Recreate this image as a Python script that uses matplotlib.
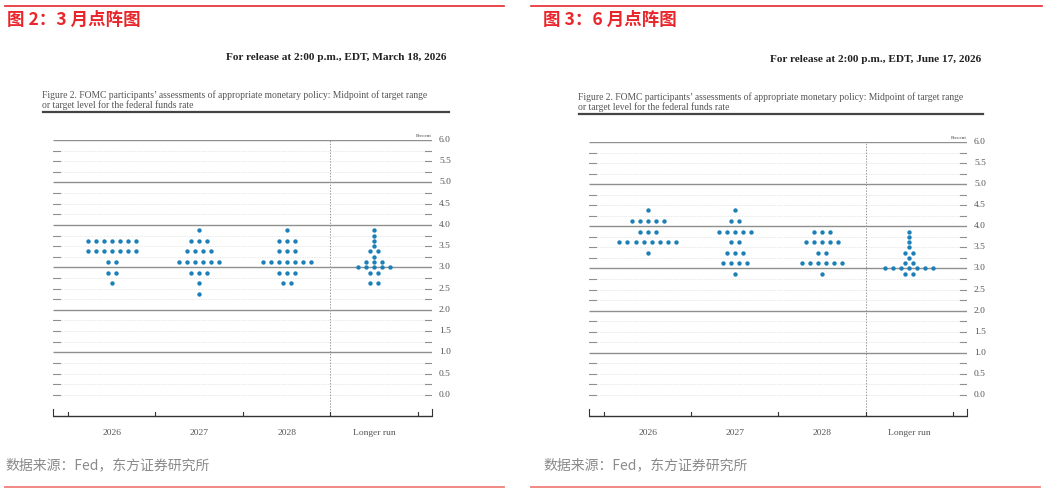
import numpy as np
import matplotlib
matplotlib.use("Agg")
import matplotlib.pyplot as plt
from matplotlib.transforms import blended_transform_factory

plt.rcParams['font.family'] = ['Noto Sans CJK SC', 'DejaVu Sans']

W, H = 1047, 493

# ---------------- data ----------------
categories = ["2026", "2027", "2028", "Longer run"]
y_tick_values = [0.0, 0.5, 1.0, 1.5, 2.0, 2.5, 3.0, 3.5, 4.0, 4.5, 5.0, 5.5, 6.0]
y_tick_labels = ["0.0", "0.5", "1.0", "1.5", "2.0", "2.5", "3.0", "3.5", "4.0", "4.5", "5.0", "5.5", "6.0"]

# March 2026 SEP
mar_2026_rates = [3.625, 3.375, 3.125, 2.875, 2.625]
mar_2026_counts = [7, 7, 2, 2, 1]
mar_2027_rates = [3.875, 3.625, 3.375, 3.125, 2.875, 2.625, 2.375]
mar_2027_counts = [1, 3, 4, 6, 3, 1, 1]
mar_2028_rates = [3.875, 3.625, 3.375, 3.125, 2.875, 2.625]
mar_2028_counts = [1, 3, 3, 7, 3, 2]
mar_lr_rates = [3.875, 3.75, 3.625, 3.5, 3.375, 3.25, 3.125, 3.0, 2.875, 2.625]
mar_lr_counts = [1, 1, 1, 1, 2, 1, 3, 5, 2, 2]

# June 2026 SEP
jun_2026_rates = [4.375, 4.125, 3.875, 3.625, 3.375]
jun_2026_counts = [1, 5, 3, 8, 1]
jun_2027_rates = [4.375, 4.125, 3.875, 3.625, 3.375, 3.125, 2.875]
jun_2027_counts = [1, 2, 5, 2, 3, 4, 1]
jun_2028_rates = [3.875, 3.625, 3.375, 3.125, 2.875]
jun_2028_counts = [3, 5, 2, 6, 1]
jun_lr_rates = [3.875, 3.75, 3.625, 3.5, 3.375, 3.25, 3.125, 3.0, 2.875]
jun_lr_counts = [1, 1, 1, 1, 2, 1, 2, 7, 2]

panel_titles = ["图 2：3 月点阵图", "图 3：6 月点阵图"]
release_texts = ["For release at 2:00 p.m., EDT, March 18, 2026",
                 "For release at 2:00 p.m., EDT, June 17, 2026"]
caption_line1 = "Figure 2. FOMC participants\u2019 assessments of appropriate monetary policy: Midpoint of target range"
caption_line2 = "or target level for the federal funds rate"
source_text = "数据来源：Fed，东方证券研究所"

# ---------------- styling ----------------
RED = '#e8262b'
DOT = '#1b7fb8'
SERIF = 'Liberation Serif'
XMIN, XMAX = -0.671, 3.66
YMIN, YMAX = -0.5, 6.0
DOT_STEP = 0.092

fig = plt.figure(figsize=(W / 100, H / 100), dpi=100)


def fx(x):
    return x / W


def fy(y):
    return 1 - y / H


def rect(l, t, r, b):
    return [l / W, 1 - b / H, (r - l) / W, (b - t) / H]


def hline(x0, x1, y, color, lw):
    fig.add_artist(plt.Line2D([fx(x0), fx(x1)], [fy(y), fy(y)], color=color, lw=lw,
                              transform=fig.transFigure))


def draw_panel(ax_rect, series):
    ax = fig.add_axes(ax_rect)
    ax.set_xlim(XMIN, XMAX)
    ax.set_ylim(YMIN, YMAX)
    ax.axis('off')
    # horizontal guide lines
    end = 0.08
    for y in np.arange(0, 6.001, 0.25):
        if abs(y - round(y)) < 1e-9 and y > 0:
            ax.plot([XMIN, XMAX], [y, y], color='#8f8f8f', lw=1.0, zorder=1,
                    solid_capstyle='butt')
        else:
            ax.plot([XMIN + end, XMAX - end], [y, y], color='#d2d2d2', lw=0.5,
                    ls=(0, (1, 1.5)), zorder=1)
            ax.plot([XMIN, XMIN + end], [y, y], color='#8f8f8f', lw=0.8, zorder=1)
            ax.plot([XMAX - end, XMAX], [y, y], color='#8f8f8f', lw=0.8, zorder=1)
    # dashed separator before longer run
    ax.plot([2.5, 2.5], [YMIN, YMAX], color='#9a9a9a', lw=0.7, ls=(0, (1.5, 1.5)), zorder=1)
    # bottom axis
    ax.plot([XMIN, XMAX], [YMIN, YMIN], color='#333333', lw=1.0, zorder=2,
            solid_capstyle='butt', clip_on=False)
    for xt in [XMIN, XMAX]:
        ax.plot([xt, xt], [YMIN, YMIN + 0.17], color='#333333', lw=0.8, clip_on=False)
    for xt in [-0.5, 0.5, 1.5, 2.5, 3.5]:
        ax.plot([xt, xt], [YMIN, YMIN + 0.1], color='#333333', lw=0.8, clip_on=False)
    # category labels
    for i, c in enumerate(categories):
        ax.text(i, YMIN - 0.4, c, ha='center', va='center', fontsize=6.8,
                family=SERIF, color='#555555')
    # y tick labels on the right
    tr = blended_transform_factory(ax.transAxes, ax.transData)
    for v, lab in zip(y_tick_values, y_tick_labels):
        ax.text(1.0 + 7 / 379, v, lab, transform=tr, ha='left', va='center',
                fontsize=6.8, family=SERIF, color='#555555')
    ax.text(1.0, 6.04, "Percent", transform=tr, ha='right', va='bottom',
            fontsize=3.8, family=SERIF, color='#444444')
    # dots
    for i, (rates, counts) in enumerate(series):
        xs, ys = [], []
        for r, n in zip(rates, counts):
            for k in range(n):
                xs.append(i + (k - (n - 1) / 2) * DOT_STEP)
                ys.append(r)
        ax.scatter(xs, ys, s=10, color=DOT, linewidths=0, zorder=3)
    return ax


panels = [
    dict(ax_rect=rect(53, 140, 432, 416),
         series=[(mar_2026_rates, mar_2026_counts), (mar_2027_rates, mar_2027_counts),
                 (mar_2028_rates, mar_2028_counts), (mar_lr_rates, mar_lr_counts)],
         title_x=7, top_line=(5, 504), bot_line=(5, 504), src_x=5,
         rel_right=447, rel_y=58, cap_x=42, cap_y=95, cap_line=(43, 449, 112)),
    dict(ax_rect=rect(589, 142, 967, 416),
         series=[(jun_2026_rates, jun_2026_counts), (jun_2027_rates, jun_2027_counts),
                 (jun_2028_rates, jun_2028_counts), (jun_lr_rates, jun_lr_counts)],
         title_x=543, top_line=(531, 1042), bot_line=(531, 1040), src_x=543,
         rel_right=981, rel_y=60, cap_x=578, cap_y=97, cap_line=(579, 983, 114)),
]

for p, title, rel in zip(panels, panel_titles, release_texts):
    draw_panel(p['ax_rect'], p['series'])
    hline(p['top_line'][0], p['top_line'][1], 5.5, RED, 1.2)
    hline(p['bot_line'][0], p['bot_line'][1], 487, '#f07f7a', 1.3)
    fig.text(fx(p['title_x']), fy(20), title, color=RED, fontsize=12.6, fontweight='bold',
             ha='left', va='center')
    fig.text(fx(p['src_x']), fy(465), source_text, color='#8a8a8a', fontsize=10,
             ha='left', va='center')
    fig.text(fx(p['rel_right']), fy(p['rel_y']), rel, family=SERIF, fontweight='bold',
             fontsize=8.1, color='#222222', ha='right', va='center')
    fig.text(fx(p['cap_x']), fy(p['cap_y']), caption_line1, family=SERIF, fontsize=6.9,
             color='#555555', ha='left', va='center')
    fig.text(fx(p['cap_x']), fy(p['cap_y'] + 10), caption_line2, family=SERIF, fontsize=6.9,
             color='#555555', ha='left', va='center')
    hline(p['cap_line'][0], p['cap_line'][1], p['cap_line'][2], '#444444', 1.6)

fig.savefig('out.png', dpi=100)
